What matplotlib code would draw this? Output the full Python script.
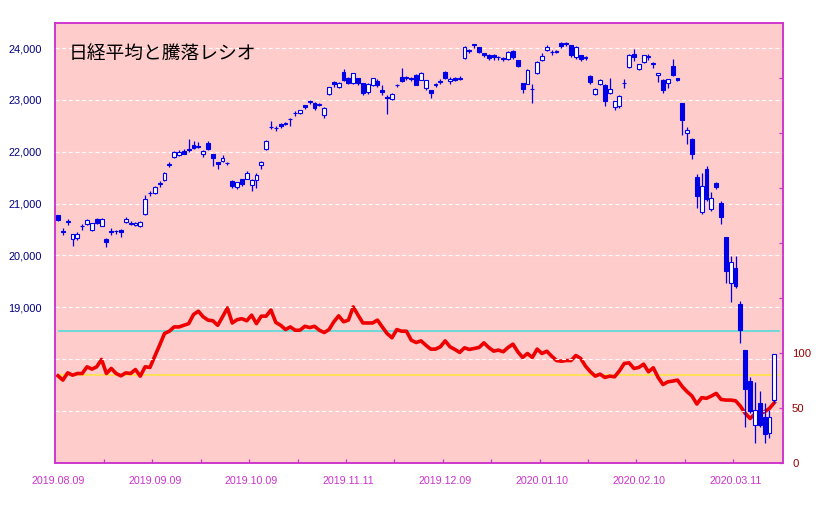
import matplotlib
matplotlib.use("Agg")
import matplotlib.pyplot as plt
from matplotlib.ticker import FixedLocator, FuncFormatter
import numpy as np

# ---------------- data ----------------
title = "日経平均と騰落レシオ"
date_labels = ["2019.08.09", "2019.09.09", "2019.10.09", "2019.11.11",
               "2019.12.09", "2020.01.10", "2020.02.10", "2020.03.11"]
date_label_idx = [0, 20, 40, 60, 80, 100, 120, 140]

opens = [20780, 20470, 20640, 20310, 20330, 20560, 20605, 20500, 20707, 20570,
         20320, 20470, 20470, 20500, 20640, 20610, 20580, 20560, 20791, 21200,
         21209, 21380, 21453, 21750, 21903, 21936, 22025, 22060, 22130, 22110,
         21962, 22172, 21949, 21802, 21822, 21790, 21439, 21312, 21471, 21484,
         21363, 21458, 21745, 22057, 22480, 22460, 22535, 22540, 22640, 22740,
         22742, 22900, 22960, 22949, 22910, 22710, 23109, 23341, 23257, 23534,
         23431, 23322, 23418, 23322, 23148, 23290, 23373, 23193, 23060, 23013,
         23280, 23450, 23420, 23420, 23490, 23395, 23236, 23185, 23290, 23350,
         23541, 23376, 23420, 23410, 23809, 23960, 24070, 24019, 23900, 23870,
         23870, 23820, 23810, 23790, 23955, 23771, 23320, 23312, 23217, 23522,
         23777, 23962, 23930, 23940, 24102, 24090, 24064, 23828, 23860, 23810,
         23459, 23121, 23312, 23280, 23140, 22866, 22885, 23330, 23631, 23892,
         23605, 23732, 23840, 23713, 23478, 23395, 23331, 23650, 23420, 22936,
         22366, 22251, 21518, 20836, 21659, 20900, 21402, 21016, 20347, 19473,
         19763, 19064, 18177, 17579, 16730, 17148, 16890, 16568, 17209]
highs = [20790, 20520, 20700, 20420, 20450, 20600, 20700, 20630, 20730, 20730,
         20330, 20530, 20500, 20510, 20740, 20660, 20650, 20670, 21158, 21240,
         21340, 21430, 21610, 21800, 22020, 22030, 22060, 22255, 22200, 22180,
         22040, 22200, 21960, 21810, 21930, 21800, 21450, 21420, 21480, 21630,
         21480, 21600, 21830, 22230, 22600, 22500, 22560, 22580, 22660, 22780,
         22810, 22910, 23000, 22960, 22950, 22860, 23260, 23360, 23340, 23590,
         23440, 23530, 23430, 23330, 23320, 23430, 23400, 23280, 23100, 23130,
         23310, 23610, 23460, 23440, 23500, 23540, 23390, 23190, 23330, 23400,
         23550, 23440, 23440, 23460, 24050, 23990, 24090, 24020, 23910, 23880,
         23880, 23850, 23820, 23940, 23970, 23780, 23330, 23590, 23300, 23750,
         23900, 24060, 23960, 23960, 24115, 24110, 24070, 24040, 23870, 23850,
         23480, 23230, 23400, 23300, 23427, 22990, 23100, 23400, 23890, 23990,
         23700, 23870, 23880, 23730, 23530, 23400, 23410, 23800, 23430, 22950,
         22470, 22270, 21563, 21595, 21720, 21230, 21410, 21050, 20350, 19990,
         19990, 19130, 18180, 17660, 17553, 17390, 17148, 17020, 18100]
lows = [20660, 20390, 20580, 20185, 20300, 20490, 20580, 20470, 20600, 20560,
        20170, 20400, 20420, 20360, 20620, 20580, 20560, 20540, 20780, 21150,
        21190, 21330, 21440, 21700, 21880, 21920, 21950, 21990, 22050, 22070,
        21900, 22030, 21726, 21662, 21800, 21740, 21310, 21280, 21340, 21470,
        21250, 21306, 21662, 22040, 22440, 22400, 22450, 22510, 22500, 22700,
        22720, 22826, 22930, 22800, 22880, 22660, 23090, 23250, 23230, 23370,
        23300, 23300, 23280, 23100, 23120, 23270, 23250, 23100, 22726, 23000,
        23250, 23350, 23390, 23360, 23280, 23380, 23200, 23040, 23250, 23300,
        23400, 23300, 23360, 23380, 23800, 23900, 24000, 23900, 23830, 23780,
        23780, 23780, 23760, 23770, 23800, 23630, 23140, 23300, 22951, 23500,
        23760, 23940, 23860, 23900, 24000, 24040, 23820, 23800, 23760, 23780,
        23310, 23100, 23290, 22890, 23120, 22800, 22850, 23230, 23620, 23760,
        23580, 23720, 23770, 23610, 23350, 23130, 23230, 23470, 23360, 22325,
        22141, 21852, 20920, 20800, 21050, 20860, 21280, 20598, 19473, 19107,
        19380, 18319, 16690, 16950, 16373, 16690, 16376, 16473, 17150]
closes = [20685, 20455, 20655, 20405, 20418, 20563, 20677, 20618, 20628, 20710,
          20261, 20456, 20479, 20460, 20704, 20620, 20625, 20649, 21086, 21200,
          21318, 21392, 21598, 21760, 21988, 22001, 21961, 22044, 22079, 22099,
          22020, 22048, 21879, 21756, 21885, 21779, 21342, 21410, 21375, 21588,
          21456, 21552, 21799, 22207, 22473, 22452, 22493, 22549, 22625, 22751,
          22800, 22867, 22974, 22843, 22927, 22851, 23252, 23304, 23330, 23392,
          23332, 23520, 23320, 23142, 23303, 23417, 23293, 23149, 23039, 23113,
          23293, 23373, 23438, 23409, 23294, 23530, 23380, 23135, 23300, 23354,
          23431, 23410, 23392, 23425, 24023, 23952, 24066, 23934, 23865, 23817,
          23821, 23831, 23783, 23925, 23838, 23657, 23205, 23576, 23205, 23740,
          23851, 24025, 23917, 23933, 24041, 24084, 23865, 24031, 23795, 23827,
          23344, 23216, 23379, 22978, 23205, 22972, 23085, 23320, 23874, 23828,
          23686, 23861, 23828, 23688, 23523, 23194, 23401, 23479, 23387, 22605,
          22426, 21948, 21143, 21344, 21083, 21100, 21329, 20750, 19699, 19867,
          19416, 18560, 17431, 17002, 17012, 16727, 16553, 16888, 18092]

ratio = [79.1, 75.2, 81.8, 79.7, 81.2, 81.2, 87.3, 85.2, 87.3, 94.0,
         81.2, 85.8, 81.2, 79.1, 81.8, 81.2, 84.8, 78.8, 87.3, 86.7,
         97.0, 107.0, 117.6, 119.7, 123.6, 123.6, 125.1, 126.6, 134.9, 137.9,
         132.8, 129.8, 129.2, 125.1, 132.8, 140.9, 127.2, 130.2, 131.1, 129.2,
         134.3, 126.6, 133.4, 133.4, 139.0, 127.7, 125.1, 121.2, 123.6, 120.6,
         120.6, 124.2, 123.0, 124.2, 120.6, 118.5, 121.2, 128.3, 133.7, 128.3,
         129.8, 141.8, 134.3, 127.2, 127.2, 127.2, 129.8, 123.6, 117.6, 113.7,
         121.2, 119.7, 119.7, 111.5, 109.4, 110.9, 107.0, 103.4, 103.4, 105.5,
         110.9, 105.5, 103.1, 100.4, 104.6, 103.1, 104.0, 104.9, 109.1, 104.9,
         101.6, 102.5, 101.0, 104.9, 107.9, 101.0, 95.8, 99.4, 95.8, 103.4,
         99.4, 101.5, 97.0, 93.0, 92.4, 93.0, 93.0, 97.6, 94.9, 87.9,
         82.8, 78.8, 80.6, 77.6, 78.8, 78.2, 83.6, 90.3, 90.9, 85.8,
         86.7, 89.7, 82.8, 86.4, 77.6, 71.2, 73.6, 74.3, 75.2, 69.2,
         64.6, 60.7, 53.4, 59.2, 58.6, 60.7, 63.1, 57.6, 57.0, 57.0,
         56.4, 51.5, 44.9, 40.3, 44.2, 44.9, 46.4, 49.4, 54.6]

overheat_level = 120
oversold_level = 80
price_grid = [17000, 18000, 19000, 20000, 21000, 22000, 23000, 24000]
price_labelled_from = 19000
ratio_ticks = [0, 50, 100, 150, 200, 250, 300, 350]
ratio_labels = ["0", "50", "100", "", "", "", "", ""]

# ---------------- style ----------------
BG = "#ffcccc"
SPINE = "#cc33cc"
BLUE = "#0000e6"
RED = "#ee0000"
CYAN = "#66d9d9"
YELLOW = "#ffe14d"

plt.rcParams['font.family'] = ['Liberation Sans', 'DejaVu Sans']

fig = plt.figure(figsize=(8.25, 5.07), dpi=100)
ax = fig.add_axes([55.3 / 825, (507 - 462.7) / 507, (782.7 - 55.3) / 825, (462.7 - 23.3) / 507])
ax2 = ax.twinx()

# ratio axis in the background
ax2.set_zorder(1)
ax.set_zorder(2)
ax.patch.set_visible(False)
ax2.patch.set_visible(True)
ax2.patch.set_facecolor(BG)

n = len(closes)
x = np.arange(n)

ax2.hlines(overheat_level, 0, n + 0.1, color=CYAN, lw=1.3, zorder=2)
ax2.hlines(oversold_level, 0, n + 0.1, color=YELLOW, lw=1.3, zorder=2)
ax2.plot(x, ratio, color=RED, lw=2.6, zorder=3, solid_joinstyle='round')
ax2.set_ylim(0, 400)
ax2.yaxis.set_major_locator(FixedLocator(ratio_ticks))
ax2.set_yticklabels(ratio_labels)
ax2.tick_params(axis='y', direction='in', length=3.2, width=0.9, color=SPINE,
                labelcolor='#990000', labelsize=8.2, pad=6.7)

# candles
o = np.array(opens, float)
c = np.array(closes, float)
h = np.array(highs, float)
l = np.array(lows, float)
up = c >= o
ax.vlines(x, l, h, color=BLUE, lw=0.9, zorder=3)
body_bottom = np.minimum(o, c)
body_h = np.maximum(np.abs(c - o), 8)
ax.bar(x, body_h, bottom=body_bottom, width=0.8,
       color=np.where(up, 'white', BLUE), edgecolor=BLUE, linewidth=0.8, zorder=4)

ax.set_xlim(-0.56, 149.74)
ax.set_ylim(16000, 24480)

ax.yaxis.set_major_locator(FixedLocator(price_grid))
ax.yaxis.set_major_formatter(FuncFormatter(
    lambda v, p: f"{int(v):,}" if v >= price_labelled_from else ""))
ax.tick_params(axis='y', length=0, labelcolor='#000080', labelsize=7.9, pad=9.5)
ax.grid(axis='y', color='white', linestyle=(0, (3.5, 2.5)), lw=0.8)
ax.set_axisbelow(True)

ax.xaxis.set_major_locator(FixedLocator(date_label_idx))
ax.set_xticklabels(date_labels)
ax.xaxis.set_minor_locator(FixedLocator([k - 0.5 for k in range(10, 141, 10)]))
ax.tick_params(axis='x', which='major', length=0, labelcolor=SPINE, labelsize=7.7, pad=9.5)
ax.tick_params(axis='x', which='minor', direction='in', length=3.2, width=0.9, color=SPINE)

for a in (ax, ax2):
    for s in a.spines.values():
        s.set_color(SPINE)
        s.set_linewidth(1.1)

ax.text(0.018, 0.929, title, transform=ax.transAxes, fontsize=13.5,
        family=['Noto Sans CJK JP', 'DejaVu Sans'], color='black', va='center', ha='left',
        zorder=10)

fig.savefig("out.png", dpi=100, facecolor='white')
